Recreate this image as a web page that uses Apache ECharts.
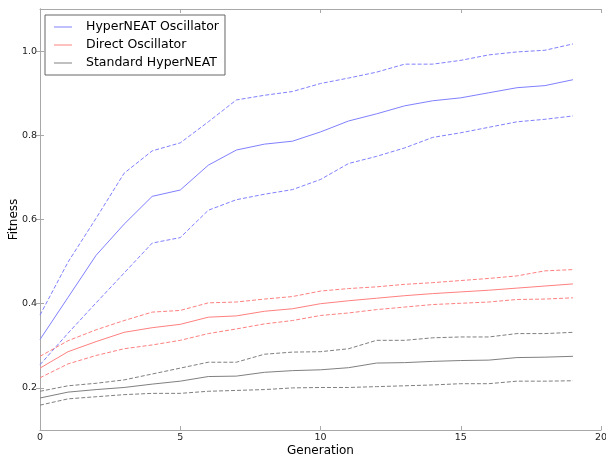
<!DOCTYPE html>
<html>
<head>
<meta charset="utf-8">
<script src="https://cdn.jsdelivr.net/npm/echarts@6/dist/echarts.min.js"></script>
<style>html,body{margin:0;padding:0;background:#fff;}#c{width:606px;height:456px;}</style>
</head>
<body>
<div id="c"></div>
<script>
const generations = [0,1,2,3,4,5,6,7,8,9,10,11,12,13,14,15,16,17,18,19];

const hyperMean  = [0.315,0.415,0.515,0.589,0.655,0.670,0.729,0.765,0.779,0.786,0.808,0.834,0.851,0.870,0.882,0.889,0.901,0.913,0.918,0.932];
const hyperUpper = [0.373,0.499,0.603,0.710,0.763,0.782,0.832,0.884,0.895,0.904,0.923,0.936,0.950,0.969,0.969,0.978,0.991,0.998,1.002,1.017];
const hyperLower = [0.255,0.330,0.402,0.473,0.544,0.557,0.622,0.647,0.660,0.671,0.695,0.733,0.750,0.770,0.795,0.806,0.819,0.832,0.838,0.846];

const directMean  = [0.247,0.286,0.310,0.332,0.343,0.351,0.368,0.371,0.382,0.388,0.400,0.407,0.413,0.419,0.424,0.428,0.432,0.437,0.442,0.447];
const directUpper = [0.275,0.312,0.338,0.360,0.380,0.384,0.402,0.404,0.411,0.417,0.430,0.436,0.440,0.446,0.450,0.455,0.460,0.466,0.478,0.481];
const directLower = [0.224,0.257,0.277,0.293,0.302,0.313,0.329,0.340,0.352,0.360,0.372,0.378,0.386,0.392,0.398,0.401,0.404,0.410,0.411,0.414];

const standardMean  = [0.176,0.190,0.196,0.201,0.209,0.216,0.227,0.228,0.237,0.241,0.243,0.248,0.259,0.260,0.263,0.265,0.266,0.272,0.273,0.275];
const standardUpper = [0.192,0.205,0.211,0.219,0.233,0.247,0.261,0.261,0.280,0.285,0.286,0.293,0.313,0.313,0.319,0.321,0.321,0.329,0.329,0.332];
const standardLower = [0.159,0.174,0.179,0.184,0.187,0.187,0.192,0.194,0.196,0.200,0.201,0.201,0.203,0.205,0.207,0.210,0.210,0.216,0.216,0.217];

const xTicks = [0,5,10,15,20];
const yTicks = [0.2,0.4,0.6,0.8,1.0];

const seriesNames = ['HyperNEAT Oscillator','Direct Oscillator','Standard HyperNEAT'];
const FONT = 'DejaVu Sans';
const BLUE = '#8080ff', RED = '#ff8080', GREY = '#808080';

function pairs(vals){ return generations.map((g,i)=>[g, vals[i]]); }
function line(name, vals, color, dashed){
  return {
    name: name, type: 'line', data: pairs(vals), symbol: 'none', silent: true,
    lineStyle: {color: color, width: 1, type: dashed ? [4,2] : 'solid'},
    itemStyle: {color: color}, animation: false
  };
}

const axisLineStyle = {color: '#a8a8a8', width: 1};

const chart = echarts.init(document.getElementById('c'), null, {renderer: 'canvas'});
chart.setOption({
  animation: false,
  backgroundColor: '#ffffff',
  grid: {left: 40, right: 5, top: 9, bottom: 26, containLabel: false, outerBoundsMode: 'none'},
  legend: {
    data: seriesNames,
    orient: 'vertical',
    left: 45, top: 15,
    padding: [5, 6, 5, 9],
    icon: 'rect',
    itemWidth: 18, itemHeight: 1, itemGap: 4,
    backgroundColor: '#ffffff',
    borderColor: '#666666', borderWidth: 1, borderRadius: 0,
    textStyle: {fontFamily: FONT, fontSize: 12.5, color: '#000', padding: [0,0,0,9], lineHeight: 14},
    selectedMode: false
  },
  xAxis: [
    {type: 'value', min: 0, max: 20, interval: 5, position: 'bottom',
     name: 'Generation', nameLocation: 'middle', nameGap: 15, nameMoveOverlap: false,
     nameTextStyle: {fontFamily: FONT, fontSize: 12, color: '#000'},
     axisLine: {show: true, lineStyle: axisLineStyle},
     axisTick: {show: true, inside: true, length: 4, lineStyle: axisLineStyle, customValues: xTicks},
     axisLabel: {fontFamily: FONT, fontSize: 9.5, color: '#222', margin: 3, customValues: xTicks},
     splitLine: {show: false}},
    {type: 'value', min: 0, max: 20, interval: 5, position: 'top',
     axisLine: {show: true, lineStyle: axisLineStyle},
     axisTick: {show: true, inside: true, length: 4, lineStyle: axisLineStyle, customValues: xTicks},
     axisLabel: {show: false}, splitLine: {show: false}}
  ],
  yAxis: [
    {type: 'value', min: 0.1, max: 1.1, position: 'left',
     name: 'Fitness', nameLocation: 'middle', nameGap: 20, nameRotate: 90, nameMoveOverlap: false,
     nameTextStyle: {fontFamily: FONT, fontSize: 12, color: '#000'},
     axisLine: {show: true, lineStyle: axisLineStyle},
     axisTick: {show: true, inside: true, length: 4, lineStyle: axisLineStyle, customValues: yTicks},
     axisLabel: {fontFamily: FONT, fontSize: 9.5, color: '#222', margin: 3, customValues: yTicks,
       formatter: v => v.toFixed(1)},
     splitLine: {show: false}},
    {type: 'value', min: 0.1, max: 1.1, position: 'right',
     axisLine: {show: true, lineStyle: axisLineStyle},
     axisTick: {show: true, inside: true, length: 4, lineStyle: axisLineStyle, customValues: yTicks},
     axisLabel: {show: false}, splitLine: {show: false}}
  ],
  series: [
    line(seriesNames[0], hyperMean, BLUE, false),
    line(seriesNames[0] + ' upper', hyperUpper, BLUE, true),
    line(seriesNames[0] + ' lower', hyperLower, BLUE, true),
    line(seriesNames[1], directMean, RED, false),
    line(seriesNames[1] + ' upper', directUpper, RED, true),
    line(seriesNames[1] + ' lower', directLower, RED, true),
    line(seriesNames[2], standardMean, GREY, false),
    line(seriesNames[2] + ' upper', standardUpper, GREY, true),
    line(seriesNames[2] + ' lower', standardLower, GREY, true)
  ]
});
</script>
</body>
</html>
